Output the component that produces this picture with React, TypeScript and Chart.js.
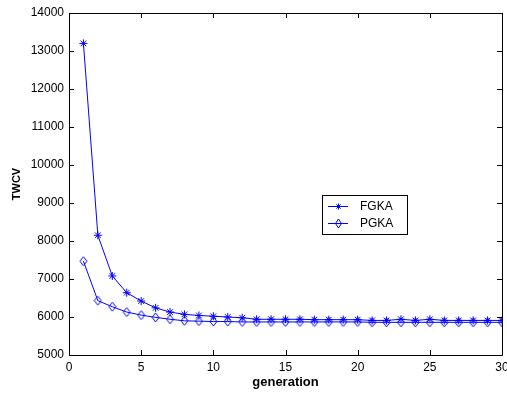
import React, { useEffect, useRef } from "react";
import { Chart, registerables } from "chart.js";

Chart.register(...registerables);

const generations = [
  1, 2, 3, 4, 5, 6, 7, 8, 9, 10, 11, 12, 13, 14, 15, 16, 17, 18, 19, 20, 21,
  22, 23, 24, 25, 26, 27, 28, 29, 30,
];
const fgka = [
  13200, 8150, 7080, 6640, 6420, 6240, 6130, 6070, 6040, 6020, 6000, 5980,
  5940, 5940, 5940, 5940, 5930, 5930, 5930, 5930, 5910, 5910, 5940, 5910, 5940,
  5910, 5910, 5910, 5910, 5910,
];
const pgka = [
  7470, 6430, 6270, 6130, 6050, 5990, 5940, 5900, 5890, 5880, 5880, 5870, 5870,
  5870, 5870, 5870, 5870, 5870, 5870, 5870, 5860, 5860, 5860, 5860, 5860, 5860,
  5860, 5860, 5860, 5860,
];
const seriesNames = ["FGKA", "PGKA"];
const xTitle = "generation";
const yTitle = "TWCV";

const BLUE = "#0000ff";
const FONT = "'Liberation Sans', Arial, sans-serif";

function makeDiamond(w: number, h: number): HTMLCanvasElement {
  const c = document.createElement("canvas");
  c.width = w + 2;
  c.height = h + 2;
  const ctx = c.getContext("2d")!;
  ctx.strokeStyle = BLUE;
  ctx.lineWidth = 1;
  const cx = (w + 2) / 2;
  const cy = (h + 2) / 2;
  ctx.beginPath();
  ctx.moveTo(cx, cy - h / 2);
  ctx.lineTo(cx + w / 2, cy);
  ctx.lineTo(cx, cy + h / 2);
  ctx.lineTo(cx - w / 2, cy);
  ctx.closePath();
  ctx.stroke();
  return c;
}

const framePlugin = {
  id: "matlabFrame",
  afterDraw(chart: any) {
    const { ctx, chartArea, scales } = chart;
    const { left, right, top, bottom } = chartArea;
    ctx.save();
    ctx.strokeStyle = "#000";
    ctx.lineWidth = 1;
    ctx.beginPath();
    ctx.rect(left + 0.5, top + 0.5, right - left, bottom - top);
    ctx.stroke();
    const tl = 5;
    ctx.beginPath();
    scales.x.ticks.forEach((t: any) => {
      const px = Math.round(scales.x.getPixelForValue(t.value)) + 0.5;
      ctx.moveTo(px, bottom);
      ctx.lineTo(px, bottom - tl);
      ctx.moveTo(px, top);
      ctx.lineTo(px, top + tl);
    });
    scales.y.ticks.forEach((t: any) => {
      const py = Math.round(scales.y.getPixelForValue(t.value)) + 0.5;
      ctx.moveTo(left, py);
      ctx.lineTo(left + tl, py);
      ctx.moveTo(right, py);
      ctx.lineTo(right - tl, py);
    });
    ctx.stroke();

    // legend
    const bx = 322.5,
      by = 195.5,
      bw = 85,
      bh = 39;
    ctx.fillStyle = "#fff";
    ctx.fillRect(bx, by, bw, bh);
    ctx.strokeStyle = "#000";
    ctx.strokeRect(bx, by, bw, bh);
    const rows = [206.5, 223.5];
    ctx.strokeStyle = BLUE;
    rows.forEach((ry, i) => {
      ctx.beginPath();
      ctx.moveTo(328, ry);
      ctx.lineTo(348, ry);
      ctx.stroke();
      const mx = 338.5;
      ctx.beginPath();
      if (i === 0) {
        const r = 3;
        ctx.moveTo(mx - r, ry);
        ctx.lineTo(mx + r, ry);
        ctx.moveTo(mx, ry - r);
        ctx.lineTo(mx, ry + r);
        const d = r * 0.7;
        ctx.moveTo(mx - d, ry - d);
        ctx.lineTo(mx + d, ry + d);
        ctx.moveTo(mx - d, ry + d);
        ctx.lineTo(mx + d, ry - d);
      } else {
        ctx.moveTo(mx, ry - 4.5);
        ctx.lineTo(mx + 3, ry);
        ctx.lineTo(mx, ry + 4.5);
        ctx.lineTo(mx - 3, ry);
        ctx.closePath();
      }
      ctx.stroke();
      ctx.fillStyle = "#000";
      ctx.font = `12px ${FONT}`;
      ctx.textBaseline = "middle";
      ctx.textAlign = "left";
      ctx.fillText(seriesNames[i], 360, ry);
    });
    ctx.restore();
  },
};

export default function App() {
  const ref = useRef<HTMLCanvasElement>(null);
  useEffect(() => {
    document.body.style.margin = "0";
    const diamond = makeDiamond(7, 9);
    const chart = new Chart(ref.current!, {
      type: "line",
      data: {
        datasets: [
          {
            label: seriesNames[0],
            data: generations.map((g, i) => ({ x: g, y: fgka[i] })),
            borderColor: BLUE,
            backgroundColor: BLUE,
            borderWidth: 1,
            pointStyle: "star",
            pointRadius: 4,
            pointBorderWidth: 1,
            pointBorderColor: BLUE,
            order: 1,
          },
          {
            label: seriesNames[1],
            data: generations.map((g, i) => ({ x: g, y: pgka[i] })),
            borderColor: BLUE,
            backgroundColor: BLUE,
            borderWidth: 1,
            pointStyle: diamond as any,
            pointRadius: 4,
            order: 0,
          },
        ],
      },
      options: {
        animation: false,
        responsive: false,
        devicePixelRatio: 1,
        layout: { padding: { left: 0, right: 5, top: 13, bottom: 0 } },
        plugins: {
          legend: { display: false },
          tooltip: { enabled: false },
        },
        elements: { line: { tension: 0 } },
        scales: {
          x: {
            type: "linear",
            min: 0,
            max: 30,
            grid: { display: false, drawTicks: false, tickLength: 0 },
            border: { display: false },
            ticks: {
              stepSize: 5,
              color: "#000",
              padding: 5,
              maxRotation: 0,
              font: { family: FONT, size: 12 },
              callback: (v: any) => String(v),
            },
            title: {
              display: true,
              text: xTitle,
              color: "#000",
              font: { family: FONT, size: 13, weight: "bold" },
              padding: { top: 0, bottom: 3 },
            },
            afterFit: (s: any) => {
              s.height = 38;
              s.paddingLeft = 0;
              s.paddingRight = 0;
            },
          },
          y: {
            type: "linear",
            min: 5000,
            max: 14000,
            grid: { display: false, drawTicks: false, tickLength: 0 },
            border: { display: false },
            ticks: {
              stepSize: 1000,
              color: "#000",
              padding: 5,
              font: { family: FONT, size: 12 },
              callback: (v: any) => String(v),
            },
            title: {
              display: true,
              text: yTitle,
              color: "#000",
              font: { family: FONT, size: 11, weight: "bold" },
              padding: { top: 10, bottom: 0 },
            },
            afterFit: (s: any) => {
              s.width = 69;
              s.paddingTop = 0;
              s.paddingBottom = 0;
            },
          },
        },
      },
      plugins: [framePlugin],
    });
    return () => chart.destroy();
  }, []);
  return (
    <div style={{ width: 507, height: 393, background: "#fff" }}>
      <canvas ref={ref} width={507} height={393} style={{ display: "block" }} />
    </div>
  );
}
